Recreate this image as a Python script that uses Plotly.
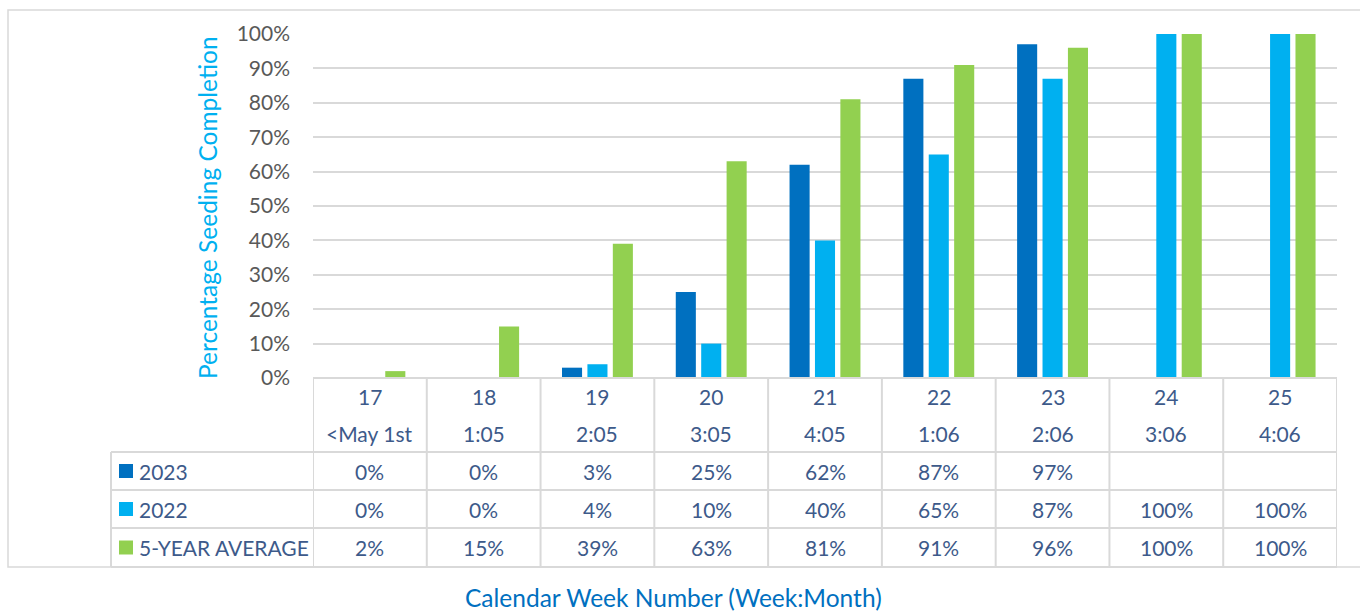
import plotly.graph_objects as go

# ---- data ----
weeks = ["17", "18", "19", "20", "21", "22", "23", "24", "25"]
months = ["<May 1st", "1:05", "2:05", "3:05", "4:05", "1:06", "2:06", "3:06", "4:06"]
series_names = ["2023", "2022", "5-YEAR AVERAGE"]
v2023 = [0, 0, 3, 25, 62, 87, 97, None, None]
v2022 = [0, 0, 4, 10, 40, 65, 87, 100, 100]
v5yr = [2, 15, 39, 63, 81, 91, 96, 100, 100]
y_ticks = [0, 10, 20, 30, 40, 50, 60, 70, 80, 90, 100]
colors = ["#0070C0", "#00B0F0", "#92D050"]
series = [v2023, v2022, v5yr]

W, H = 1360, 613
FONT = "Lato"
TXT = "#3D5A8A"
GRID = "#D9D9D9"
TSIZE = 21


def fx(p):
    return p / W


def fy(p):
    return 1 - p / H


plot_left, plot_right = 313, 1337
plot_top, plot_bottom = 34, 378
row_edges = [378, 415, 452, 490, 528, 567]  # header(2 rows) + 3 data rows
legend_left = 111

xs = list(range(len(weeks)))

fig = go.Figure()
for name, vals, col in zip(series_names, series, colors):
    fig.add_trace(go.Bar(x=xs, y=vals, name=name, marker=dict(color=col, line=dict(width=0)),
                         showlegend=False, hoverinfo="skip"))

shapes = []
annotations = []

line = dict(color=GRID, width=2)
# top of header (axis baseline)
shapes.append(dict(type="line", xref="paper", yref="paper", x0=fx(plot_left), x1=fx(plot_right),
                   y0=fy(row_edges[0]), y1=fy(row_edges[0]), line=line))
for ry in row_edges[2:]:
    shapes.append(dict(type="line", xref="paper", yref="paper", x0=fx(legend_left), x1=fx(plot_right),
                       y0=fy(ry), y1=fy(ry), line=line))
# vertical lines at category boundaries
for i in range(len(weeks) + 1):
    shapes.append(dict(type="line", xref="x", yref="paper", x0=i - 0.5, x1=i - 0.5,
                       y0=fy(row_edges[0]), y1=fy(row_edges[-1]), line=line))
# legend column left border
shapes.append(dict(type="line", xref="paper", yref="paper", x0=fx(legend_left), x1=fx(legend_left),
                   y0=fy(row_edges[2]), y1=fy(row_edges[-1]), line=line))
# outer chart border
shapes.append(dict(type="rect", xref="paper", yref="paper", x0=fx(8), x1=fx(1362),
                   y0=fy(567), y1=fy(10), line=dict(color=GRID, width=1.5), layer="below"))

# header texts
for i, (wk, mo) in enumerate(zip(weeks, months)):
    for txt, (a, b) in ((wk, (row_edges[0], row_edges[1])), (mo, (row_edges[1], row_edges[2]))):
        annotations.append(dict(x=i, y=fy((a + b) / 2), xref="x", yref="paper", text=txt,
                                showarrow=False, font=dict(family=FONT, size=TSIZE, color=TXT),
                                xanchor="center", yanchor="middle"))

# data rows
for r, (name, vals, col) in enumerate(zip(series_names, series, colors)):
    a, b = row_edges[2 + r], row_edges[3 + r]
    yc = (a + b) / 2
    shapes.append(dict(type="rect", xref="paper", yref="paper", x0=fx(119), x1=fx(133),
                       y0=fy(yc + 7), y1=fy(yc - 7), fillcolor=col, line=dict(width=0)))
    annotations.append(dict(x=fx(137), y=fy(yc), xref="paper", yref="paper", text=name,
                            showarrow=False, font=dict(family=FONT, size=TSIZE, color=TXT),
                            xanchor="left", yanchor="middle"))
    for i, v in enumerate(vals):
        if v is None:
            continue
        annotations.append(dict(x=i, y=fy(yc), xref="x", yref="paper", text=f"{v}%",
                                showarrow=False, font=dict(family=FONT, size=TSIZE, color=TXT),
                                xanchor="center", yanchor="middle"))

# axis titles
annotations.append(dict(x=fx(207), y=fy((plot_top + plot_bottom) / 2 + 1), xref="paper", yref="paper",
                        text="Percentage Seeding Completion", textangle=-90, showarrow=False,
                        font=dict(family=FONT, size=24.5, color="#00B0F0"),
                        xanchor="center", yanchor="middle"))
annotations.append(dict(x=fx(673), y=fy(597), xref="paper", yref="paper",
                        text="Calendar Week Number (Week:Month)", showarrow=False,
                        font=dict(family=FONT, size=24.5, color="#0070C0"),
                        xanchor="center", yanchor="middle"))

fig.update_layout(
    width=W, height=H,
    autosize=False,
    margin=dict(l=0, r=0, t=0, b=0, pad=0, autoexpand=False),
    paper_bgcolor="white", plot_bgcolor="white",
    barmode="group", bargap=0.33, bargroupgap=0.21,
    xaxis=dict(domain=[fx(plot_left), fx(plot_right)], range=[-0.5, len(weeks) - 0.5],
               showticklabels=False, showgrid=False, zeroline=False, showline=False,
               automargin=False),
    yaxis=dict(domain=[fy(plot_bottom), fy(plot_top)], range=[0, 100], tickvals=y_ticks,
               ticktext=[f"{t}%" for t in y_ticks], showgrid=True, gridcolor=GRID, gridwidth=1.5,
               zeroline=False, showline=False, ticks="", ticklabelstandoff=22, automargin=False,
               tickfont=dict(family=FONT, size=TSIZE, color="#595959")),
    shapes=shapes,
    annotations=annotations,
)

fig.write_html("out.html", config={"displayModeBar": False},
               post_script="document.body.style.margin='0';")
